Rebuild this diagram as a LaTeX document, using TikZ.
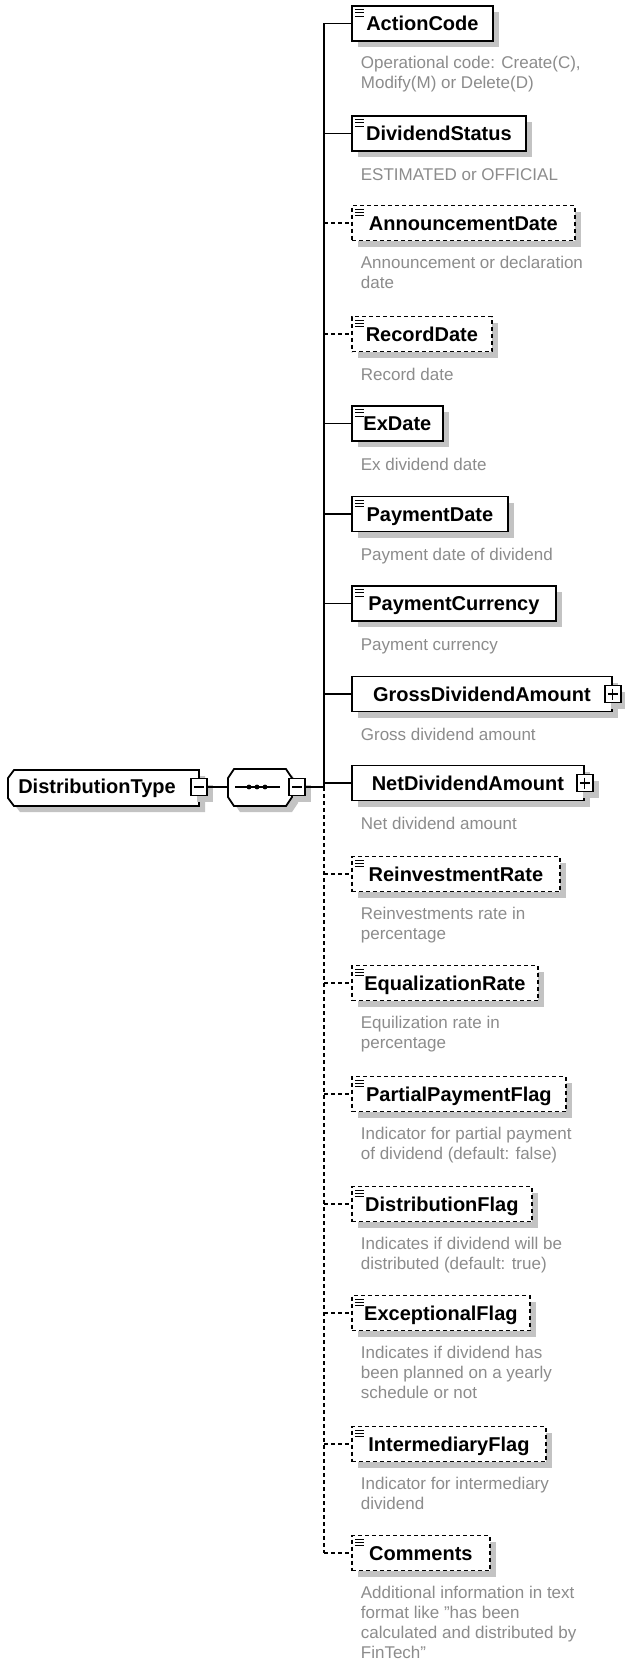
\documentclass[tikz,border=0pt]{standalone}
\usepackage{fontspec}
\setmainfont{Liberation Sans}
\usetikzlibrary{positioning}
\definecolor{notegray}{RGB}{140,140,140}
\definecolor{shadegray}{RGB}{195,195,195}

\begin{document}
\begin{tikzpicture}[x=1pt,y=-1pt,line width=1.8pt,
    shade/.style={preaction={fill=shadegray,transform canvas={xshift=6pt,yshift=-6pt}}},
    optional/.style={dash pattern=on 4pt off 3pt},
    tag/.style={inner sep=0,text height=16pt,text depth=2pt,font=\bfseries\fontsize{20}{24}\selectfont},
    elem/.style={tag,draw,fill=white,shade,anchor=west,minimum height=35pt},
    doc/.style={path picture={\draw[solid,line width=0.9pt] ([shift={(3pt,-3.5pt)}]path picture bounding box.north west) -- +(9pt,0) ([shift={(3pt,-6.8pt)}]path picture bounding box.north west) -- +(9pt,0) ([shift={(3pt,-10pt)}]path picture bounding box.north west) -- +(9pt,0);}},
    expand/.style={draw,fill=white,shade,solid,inner sep=0,minimum width=16pt,minimum height=17pt,line width=1.4pt},
    minus/.style={expand,path picture={\draw[line width=1.2pt] ([xshift=3pt]path picture bounding box.west) -- ([xshift=-3pt]path picture bounding box.east);}},
    plus/.style={expand,path picture={\draw[line width=1.2pt] ([xshift=3pt]path picture bounding box.west) -- ([xshift=-3pt]path picture bounding box.east) ([yshift=-3pt]path picture bounding box.north) -- ([yshift=3pt]path picture bounding box.south);}},
    note/.style={below right=13.5pt and 9pt of #1,inner sep=0,align=left,text=notegray,font=\fontsize{17}{20}\selectfont,execute at begin node=\strut}]
    \fill[white] (0,0) rectangle (624,1660);
    \useasboundingbox (0,0) rectangle (624,1660);
    % complex type and sequence
    \draw[fill=white,shade] (14,770) -- (199,770) -- (199,806) -- (14,806) -- (8,798) -- (8,778) -- cycle;
    \node[tag] (dt) at (97,786) {DistributionType};
    \draw[fill=white,shade] (234,769) -- (286,769) -- (292,778) -- (292,797) -- (286,806) -- (234,806) -- (228,797) -- (228,778) -- cycle;
    \node[inner sep=0,minimum width=64pt,minimum height=37pt] (seq) at (260,787) {};
    \draw[line width=1.2pt] (235,787) -- (280,787);
    \fill (249,787) circle (2.4pt) (257,787) circle (2.4pt) (265,787) circle (2.4pt);
    \node[minus] (dtm) at (199,787) {};
    \node[minus] (seqm) at (297,787) {};
    \coordinate (bus) at (324,787);
    \draw (dtm) -- (seq);
    \draw (seqm) -- (bus);
    % child elements
    \node[elem,doc,minimum width=141pt] (ac) at (351,23.5) {ActionCode};
    \node[elem,doc,minimum width=174pt] (ds) at (351,133.5) {DividendStatus};
    \node[elem,doc,optional,minimum width=223pt] (ad) at (351,223) {AnnouncementDate};
    \node[elem,doc,optional,minimum width=140pt] (rd) at (351,334) {RecordDate};
    \node[elem,doc,minimum width=91pt] (xd) at (351,423.5) {ExDate};
    \node[elem,doc,minimum width=156pt] (pd) at (351,514) {PaymentDate};
    \node[elem,doc,minimum width=204pt] (pc) at (351,603.5) {PaymentCurrency};
    \node[elem,minimum width=260pt] (gd) at (351,694) {GrossDividendAmount};
    \node[elem,minimum width=232pt] (nd) at (351,783) {NetDividendAmount};
    \node[elem,doc,optional,minimum width=208pt] (rr) at (351,874) {ReinvestmentRate};
    \node[elem,doc,optional,minimum width=186pt] (er) at (351,983) {EqualizationRate};
    \node[elem,doc,optional,minimum width=214pt] (pp) at (351,1094) {PartialPaymentFlag};
    \node[elem,doc,optional,minimum width=180pt] (df) at (351,1204) {DistributionFlag};
    \node[elem,doc,optional,minimum width=178pt] (xf) at (351,1313) {ExceptionalFlag};
    \node[elem,doc,optional,minimum width=194pt] (imf) at (351,1444) {IntermediaryFlag};
    \node[elem,doc,optional,minimum width=138pt] (cm) at (351,1553) {Comments};
    \node[plus] (gdp) at (gd.east) {};
    \node[plus] (ndp) at (nd.east) {};
    % annotations
    \node[note=ac.south west] (acn) {Operational code: Create(C),\\Modify(M) or Delete(D)};
    \node[note=ds.south west] (dsn) {ESTIMATED or OFFICIAL};
    \node[note=ad.south west] (adn) {Announcement or declaration\\date};
    \node[note=rd.south west] (rdn) {Record date};
    \node[note=xd.south west] (xdn) {Ex dividend date};
    \node[note=pd.south west] (pdn) {Payment date of dividend};
    \node[note=pc.south west] (pcn) {Payment currency};
    \node[note=gd.south west] (gdn) {Gross dividend amount};
    \node[note=nd.south west] (ndn) {Net dividend amount};
    \node[note=rr.south west] (rrn) {Reinvestments rate in\\percentage};
    \node[note=er.south west] (ern) {Equilization rate in\\percentage};
    \node[note=pp.south west] (ppn) {Indicator for partial payment\\of dividend (default: false)};
    \node[note=df.south west] (dfn) {Indicates if dividend will be\\distributed (default: true)};
    \node[note=xf.south west] (xfn) {Indicates if dividend has\\been planned on a yearly\\schedule or not};
    \node[note=imf.south west] (imfn) {Indicator for intermediary\\dividend};
    \node[note=cm.south west] (cmn) {Additional information in text\\format like "has been\\calculated and distributed by\\FinTech"};
    % connectors
    \coordinate (end) at (bus |- cm);
    \draw (bus) |- (ac);
    \draw (bus) |- (ds);
    \draw (bus) |- (xd);
    \draw (bus) |- (pd);
    \draw (bus) |- (pc);
    \draw (bus) |- (gd);
    \draw (bus) |- (nd);
    \draw[optional] (bus) -- (end);
    \draw[optional] (bus |- ad) -- (ad);
    \draw[optional] (bus |- rd) -- (rd);
    \draw[optional] (bus |- rr) -- (rr);
    \draw[optional] (bus |- er) -- (er);
    \draw[optional] (bus |- pp) -- (pp);
    \draw[optional] (bus |- df) -- (df);
    \draw[optional] (bus |- xf) -- (xf);
    \draw[optional] (bus |- imf) -- (imf);
    \draw[optional] (end) -- (cm);
\end{tikzpicture}
\end{document}
